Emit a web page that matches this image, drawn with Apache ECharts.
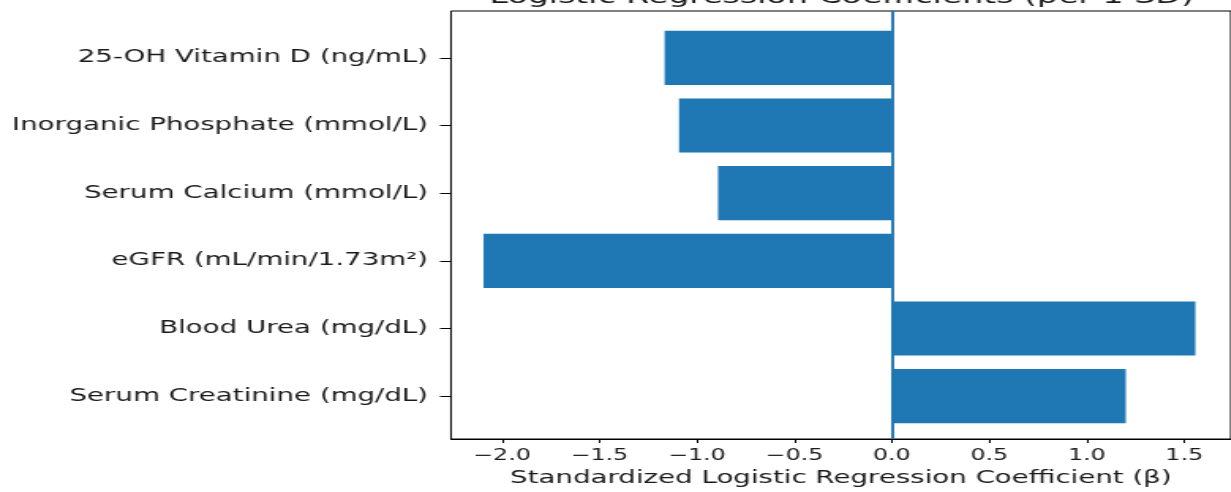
<!DOCTYPE html>
<html>
<head>
<meta charset="utf-8">
<script src="https://cdn.jsdelivr.net/npm/echarts@6/dist/echarts.min.js"></script>
<style>
  html, body { margin: 0; padding: 0; background: #ffffff; overflow: hidden; }
  #wrap { width: 1231px; height: 492px; overflow: hidden; position: relative; }
  #chart { position: absolute; left: 0; top: 0; height: 492px; transform-origin: 0 0; }
</style>
</head>
<body>
<div id="wrap"><div id="chart"></div></div>
<script>
// Predictors, listed top to bottom
const predictors = [
  '25-OH Vitamin D (ng/mL)',
  'Inorganic Phosphate (mmol/L)',
  'Serum Calcium (mmol/L)',
  'eGFR (mL/min/1.73m²)',
  'Blood Urea (mg/dL)',
  'Serum Creatinine (mg/dL)'
];
// Standardized coefficient per 1 SD
const coefficients = [-1.166, -1.092, -0.892, -2.095, 1.557, 1.200];
// Horizontal axis
const xTicks = [-2.0, -1.5, -1.0, -0.5, 0.0, 0.5, 1.0, 1.5];
const xMin = -2.262;
const xMax = 1.739;

const titleText = 'Logistic Regression Coefficients (per 1 SD)';
const xAxisTitle = 'Standardized Logistic Regression Coefficient (β)';

// The figure is drawn on a narrower canvas and widened horizontally
const S = 1.58;
const W = 1231 / S;
const el = document.getElementById('chart');
el.style.width = W + 'px';
el.style.transform = 'scaleX(' + S + ')';

const FONT = 'DejaVu Sans';
const INK = '#1a1a1a';
const BLUE = '#1f77b4';

// frame box (screen px)
const frameL = 451, frameR = 1232.3, frameT = 11, frameB = 443;
// band area for bars
const bandT = 24, bandB = 430;

const chart = echarts.init(el, null, { renderer: 'canvas' });

const xAxisCommon = {
  type: 'value',
  min: xMin,
  max: xMax,
  splitLine: { show: false }
};

chart.setOption({
  animation: false,
  backgroundColor: '#ffffff',
  grid: [
    {
      left: frameL / S, right: (1231 - frameR) / S, top: frameT, bottom: 492 - frameB,
      show: true, borderColor: '#000000', borderWidth: 1, backgroundColor: 'transparent',
      containLabel: false
    },
    {
      left: frameL / S, right: (1231 - frameR) / S, top: bandT, bottom: 492 - bandB,
      containLabel: false
    }
  ],
  graphic: [
    {
      type: 'text',
      x: (frameL + frameR) / 2 / S,
      y: 8,
      style: {
        text: titleText,
        font: '21px "' + FONT + '"',
        fill: INK,
        align: 'center',
        verticalAlign: 'bottom'
      }
    }
  ],
  xAxis: [
    Object.assign({}, xAxisCommon, {
      gridIndex: 0,
      position: 'bottom',
      customValues: xTicks,
      axisLine: { show: true, onZero: false, lineStyle: { color: '#000000', width: 1 } },
      axisTick: { show: true, length: 4, customValues: xTicks, lineStyle: { color: '#000000', width: 1 } },
      axisLabel: {
        show: true,
        customValues: xTicks,
        margin: 10,
        fontFamily: FONT,
        fontSize: 15,
        color: INK,
        formatter: v => (v < 0 ? '\u2212' : '') + Math.abs(v).toFixed(1)
      },
      name: xAxisTitle,
      nameLocation: 'middle',
      nameGap: 30,
      nameTextStyle: { fontFamily: FONT, fontSize: 17.5, color: INK }
    }),
    Object.assign({}, xAxisCommon, {
      gridIndex: 1,
      show: false
    })
  ],
  yAxis: [
    {
      type: 'value', gridIndex: 0, min: 0, max: 1, show: false
    },
    {
      type: 'category',
      gridIndex: 1,
      data: predictors,
      inverse: true,
      position: 'left',
      axisLine: { show: false, onZero: false },
      axisTick: { show: true, alignWithLabel: true, length: 11 / S, lineStyle: { color: '#000000', width: 1 } },
      axisLabel: {
        margin: 14.5,
        fontFamily: FONT,
        fontSize: 17.5,
        color: INK
      },
      splitLine: { show: false }
    }
  ],
  series: [
    {
      type: 'bar',
      xAxisIndex: 1,
      yAxisIndex: 1,
      data: coefficients,
      barWidth: '80%',
      itemStyle: { color: BLUE },
      z: 2
    },
    {
      // vertical reference line at zero spanning the frame
      type: 'line',
      xAxisIndex: 0,
      yAxisIndex: 0,
      data: [],
      showSymbol: false,
      silent: true,
      z: 3,
      markLine: {
        silent: true,
        symbol: ['none', 'none'],
        label: { show: false },
        lineStyle: { color: BLUE, width: 1.9, type: 'solid' },
        data: [{ xAxis: 0 }]
      }
    }
  ]
});
</script>
</body>
</html>
